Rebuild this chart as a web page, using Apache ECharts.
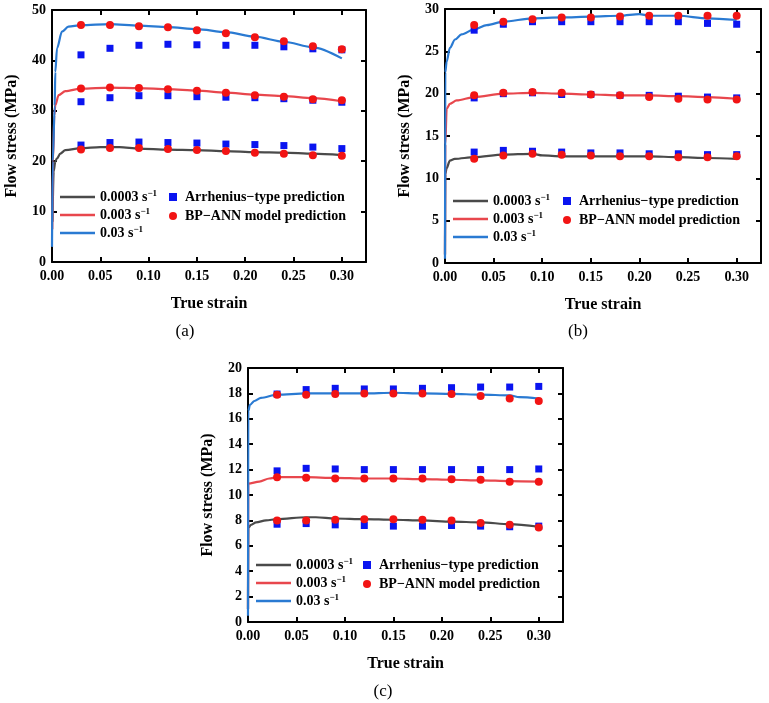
<!DOCTYPE html>
<html>
<head>
<meta charset="utf-8">
<script src="https://cdn.jsdelivr.net/npm/echarts@6/dist/echarts.min.js"></script>
<style>
html,body{margin:0;padding:0;background:#fff;}
#chart{width:769px;height:703px;}
</style>
</head>
<body>
<div id="chart"></div>
<script>
// ---------- data ----------
const xTicks = [0, 0.05, 0.10, 0.15, 0.20, 0.25, 0.30];
const rateNames = ['0.0003 s⁻¹', '0.003 s⁻¹', '0.03 s⁻¹'];
const arrName = 'Arrhenius−type prediction';
const annName = 'BP−ANN model prediction';
const predStrain = [0.03, 0.06, 0.09, 0.12, 0.15, 0.18, 0.21, 0.24, 0.27, 0.30];

// Panel (a)
const aStrain1 = [0.0005, 0.0017, 0.0034, 0.005, 0.0086, 0.0138, 0.03, 0.05, 0.07, 0.09, 0.12, 0.15, 0.18, 0.21, 0.24, 0.27, 0.30];
const aStress1 = [8, 17.9, 19.9, 20.5, 21.5, 22.2, 22.6, 22.8, 22.8, 22.5, 22.3, 22.2, 22.0, 21.8, 21.7, 21.5, 21.2];
const aStrain2 = [0.0003, 0.001, 0.0024, 0.0034, 0.0069, 0.0138, 0.03, 0.06, 0.09, 0.12, 0.15, 0.18, 0.21, 0.24, 0.27, 0.30];
const aStress2 = [6.5, 20, 29.1, 31.1, 33.1, 33.9, 34.4, 34.6, 34.5, 34.3, 34.0, 33.6, 33.2, 32.9, 32.5, 31.9];
const aStrain3 = [0, 0.0008, 0.0028, 0.0034, 0.0052, 0.0103, 0.017, 0.03, 0.06, 0.09, 0.12, 0.15, 0.18, 0.21, 0.24, 0.27, 0.30];
const aStress3 = [3, 20, 31, 37.7, 42.4, 45.7, 46.7, 47.0, 47.2, 46.9, 46.6, 46.2, 45.6, 44.7, 43.7, 42.6, 40.4];
const aArr1 = [23.2, 23.7, 23.8, 23.7, 23.6, 23.4, 23.3, 23.1, 22.8, 22.5];
const aArr2 = [31.8, 32.6, 33.0, 33.0, 32.8, 32.7, 32.6, 32.4, 32.1, 31.7];
const aArr3 = [41.1, 42.4, 43.0, 43.2, 43.1, 43.0, 43.0, 42.7, 42.3, 42.1];
const aAnn1 = [22.3, 22.6, 22.6, 22.4, 22.2, 22.0, 21.7, 21.5, 21.2, 21.1];
const aAnn2 = [34.4, 34.6, 34.5, 34.3, 34.0, 33.6, 33.1, 32.8, 32.3, 32.1];
const aAnn3 = [47.0, 47.0, 46.8, 46.6, 46.0, 45.4, 44.6, 43.8, 42.8, 42.2];

// Panel (b)
const bStrain1 = [0, 0.0003, 0.0017, 0.005, 0.01, 0.03, 0.06, 0.09, 0.10, 0.12, 0.15, 0.18, 0.21, 0.24, 0.27, 0.30];
const bStress1 = [1, 10.5, 11.2, 12.1, 12.3, 12.5, 12.8, 12.9, 12.7, 12.6, 12.6, 12.6, 12.6, 12.5, 12.4, 12.3];
const bStrain2 = [0, 0.0003, 0.0017, 0.005, 0.012, 0.03, 0.06, 0.09, 0.12, 0.15, 0.18, 0.21, 0.24, 0.27, 0.30];
const bStress2 = [1, 14, 18.2, 18.8, 19.2, 19.6, 20.0, 20.1, 20.0, 19.9, 19.8, 19.8, 19.7, 19.6, 19.4];
const bStrain3 = [0, 0.0003, 0.0017, 0.005, 0.0103, 0.017, 0.03, 0.043, 0.06, 0.09, 0.12, 0.15, 0.18, 0.20, 0.21, 0.24, 0.27, 0.30];
const bStress3 = [0.5, 22.5, 23.8, 25.4, 26.4, 27.0, 27.6, 28.1, 28.5, 28.9, 29.0, 29.1, 29.2, 29.4, 29.2, 29.2, 28.9, 28.7];
const bArr1 = [13.1, 13.3, 13.2, 13.1, 13.0, 13.0, 12.9, 12.9, 12.8, 12.8];
const bArr2 = [19.5, 20.0, 20.1, 19.9, 19.9, 19.8, 19.8, 19.7, 19.6, 19.5];
const bArr3 = [27.5, 28.2, 28.5, 28.5, 28.5, 28.5, 28.5, 28.5, 28.3, 28.2];
const bAnn1 = [12.3, 12.7, 12.9, 12.8, 12.7, 12.6, 12.6, 12.5, 12.5, 12.6];
const bAnn2 = [19.8, 20.1, 20.2, 20.1, 19.9, 19.8, 19.6, 19.4, 19.3, 19.3];
const bAnn3 = [28.1, 28.5, 28.8, 29.0, 29.0, 29.1, 29.2, 29.2, 29.2, 29.2];

// Panel (c)
const cStrain1 = [0, 0.0003, 0.0031, 0.0083, 0.0186, 0.03, 0.06, 0.07, 0.09, 0.12, 0.15, 0.18, 0.21, 0.24, 0.27, 0.30];
const cStress1 = [1, 7.4, 7.65, 7.85, 8.0, 8.1, 8.25, 8.25, 8.15, 8.1, 8.05, 8.0, 7.9, 7.85, 7.7, 7.5];
const cStrain2 = [0, 0.0003, 0.0117, 0.022, 0.03, 0.06, 0.09, 0.12, 0.15, 0.18, 0.21, 0.24, 0.27, 0.30];
const cStress2 = [1, 10.9, 11.05, 11.3, 11.4, 11.4, 11.35, 11.3, 11.3, 11.25, 11.2, 11.15, 11.1, 11.05];
const cStrain3 = [0, 0.0003, 0.002, 0.0066, 0.0134, 0.03, 0.06, 0.09, 0.12, 0.15, 0.18, 0.21, 0.24, 0.27, 0.28, 0.30];
const cStress3 = [0.5, 16.6, 17.1, 17.4, 17.65, 17.9, 18.0, 18.0, 18.0, 18.05, 18.0, 17.97, 17.9, 17.85, 17.7, 17.6];
const cArr1 = [7.7, 7.75, 7.65, 7.6, 7.55, 7.55, 7.6, 7.55, 7.5, 7.55];
const cArr2 = [11.9, 12.1, 12.05, 12.0, 12.0, 12.0, 12.0, 12.0, 12.0, 12.05];
const cArr3 = [17.95, 18.3, 18.4, 18.35, 18.35, 18.4, 18.45, 18.5, 18.5, 18.55];
const cAnn1 = [8.0, 8.0, 8.05, 8.1, 8.1, 8.05, 8.0, 7.8, 7.65, 7.45];
const cAnn2 = [11.4, 11.35, 11.3, 11.3, 11.3, 11.3, 11.25, 11.2, 11.05, 11.05];
const cAnn3 = [17.9, 17.9, 17.95, 18.0, 18.0, 18.0, 17.95, 17.8, 17.6, 17.4];

const yMaxes = [50, 30, 20];
const yIntervals = [10, 5, 2];
const panelLabels = ['(a)', '(b)', '(c)'];

// ---------- styles ----------
const lineColors = ['#4a4a4a', '#e8474d', '#2a7ad2'];
const arrColor = '#0a14f0';
const annColor = '#f21414';
const FONT = '"Liberation Serif", "Times New Roman", serif';

const panels = [
  { curves: [[aStrain1, aStress1], [aStrain2, aStress2], [aStrain3, aStress3]], arr: [aArr1, aArr2, aArr3], ann: [aAnn1, aAnn2, aAnn3],
    grid: { left: 52, top: 10, width: 314, height: 252 }, label: [185, 332], leg: [60, 184], leg2: [169, 184] },
  { curves: [[bStrain1, bStress1], [bStrain2, bStress2], [bStrain3, bStress3]], arr: [bArr1, bArr2, bArr3], ann: [bAnn1, bAnn2, bAnn3],
    grid: { left: 445, top: 9, width: 316, height: 254 }, label: [578, 332], leg: [453, 188], leg2: [563, 188] },
  { curves: [[cStrain1, cStress1], [cStrain2, cStress2], [cStrain3, cStress3]], arr: [cArr1, cArr2, cArr3], ann: [cAnn1, cAnn2, cAnn3],
    grid: { left: 248, top: 368, width: 315, height: 254 }, label: [383, 692], leg: [256, 552], leg2: [363, 552] }
];

const pairs = (xs, ys) => xs.map((x, i) => [x, ys[i]]);

const grids = [], xAxes = [], yAxes = [], series = [], legends = [], graphics = [];
const axisTextStyle = { fontFamily: FONT, fontWeight: 'bold', fontSize: 14, color: '#000' };
const tickStyle = { show: true, inside: true, length: 5, lineStyle: { color: '#000', width: 2 } };
const lineStyle = { show: true, onZero: false, lineStyle: { color: '#000', width: 2 } };

panels.forEach((p, k) => {
  grids.push(Object.assign({ containLabel: false, outerBoundsMode: 'none' }, p.grid));
  xAxes.push({
    type: 'value', gridIndex: k, position: 'bottom', min: 0, max: 0.325, interval: 0.05,
    axisLine: lineStyle, axisTick: tickStyle, splitLine: { show: false },
    axisLabel: Object.assign({ margin: 7, showMaxLabel: false, formatter: v => v.toFixed(2) }, axisTextStyle),
    name: 'True strain', nameLocation: 'middle', nameGap: 34,
    nameTextStyle: { fontFamily: FONT, fontWeight: 'bold', fontSize: 16, color: '#000' }
  });
  xAxes.push({
    type: 'value', gridIndex: k, position: 'top', min: 0, max: 0.325, interval: 0.05,
    axisLine: lineStyle, axisTick: tickStyle, splitLine: { show: false }, axisLabel: { show: false }
  });
  yAxes.push({
    type: 'value', gridIndex: k, position: 'left', min: 0, max: yMaxes[k], interval: yIntervals[k],
    axisLine: lineStyle, axisTick: tickStyle, splitLine: { show: false },
    axisLabel: Object.assign({ margin: 6 }, axisTextStyle),
    name: 'Flow stress (MPa)', nameLocation: 'middle', nameGap: 32,
    nameTextStyle: { fontFamily: FONT, fontWeight: 'bold', fontSize: 16, color: '#000' }
  });
  yAxes.push({
    type: 'value', gridIndex: k, position: 'right', min: 0, max: yMaxes[k], interval: yIntervals[k],
    axisLine: lineStyle, axisTick: tickStyle, splitLine: { show: false }, axisLabel: { show: false }
  });
  p.curves.forEach((c, i) => {
    series.push({
      type: 'line', name: rateNames[i], xAxisIndex: 2 * k, yAxisIndex: 2 * k,
      data: pairs(c[0], c[1]), symbol: 'none', smooth: 0.3, smoothMonotone: 'x',
      lineStyle: { color: lineColors[i], width: 2.2 }, itemStyle: { color: lineColors[i] },
      z: 2, silent: true
    });
  });
  p.arr.forEach(v => {
    series.push({
      type: 'scatter', name: arrName, xAxisIndex: 2 * k, yAxisIndex: 2 * k,
      data: pairs(predStrain, v), symbol: 'rect', symbolSize: 7,
      itemStyle: { color: arrColor, opacity: 1 }, z: 3, silent: true
    });
  });
  p.ann.forEach(v => {
    series.push({
      type: 'scatter', name: annName, xAxisIndex: 2 * k, yAxisIndex: 2 * k,
      data: pairs(predStrain, v), symbol: 'circle', symbolSize: 8,
      itemStyle: { color: annColor, opacity: 1 }, z: 4, silent: true
    });
  });
  legends.push({
    orient: 'vertical', left: p.leg[0] - 5, top: p.leg[1], data: rateNames,
    icon: 'rect', itemWidth: 35, itemHeight: 2.5, itemGap: 3, selectedMode: false,
    formatter: n => '{t|' + n.replace('⁻¹', '') + '}{s|−1}',
    textStyle: {
      fontFamily: FONT, fontWeight: 'bold', fontSize: 14, color: '#000',
      rich: {
        t: { fontFamily: FONT, fontWeight: 'bold', fontSize: 14, color: '#000', lineHeight: 16 },
        s: { fontFamily: FONT, fontWeight: 'bold', fontSize: 9, color: '#000', verticalAlign: 'top', lineHeight: 9 }
      }
    }
  });
  legends.push({
    orient: 'vertical', left: p.leg2[0] - 5, top: p.leg2[1], data: [
      { name: arrName, icon: 'rect' }, { name: annName, icon: 'circle' }
    ],
    itemWidth: 8, itemHeight: 8, itemGap: 3, selectedMode: false,
    textStyle: { fontFamily: FONT, fontWeight: 'bold', fontSize: 14, color: '#000', lineHeight: 16, padding: [0, 0, 0, 3] }
  });
  graphics.push({
    type: 'text', x: p.label[0], y: p.label[1],
    style: { text: panelLabels[k], font: '17px "Liberation Serif", serif', fill: '#000', textAlign: 'center', textVerticalAlign: 'middle' }
  });
});

const chart = echarts.init(document.getElementById('chart'), null, { renderer: 'canvas' });
chart.setOption({
  backgroundColor: '#fff',
  animation: false,
  grid: grids,
  xAxis: xAxes,
  yAxis: yAxes,
  legend: legends,
  series: series,
  graphic: graphics
});
</script>
</body>
</html>
